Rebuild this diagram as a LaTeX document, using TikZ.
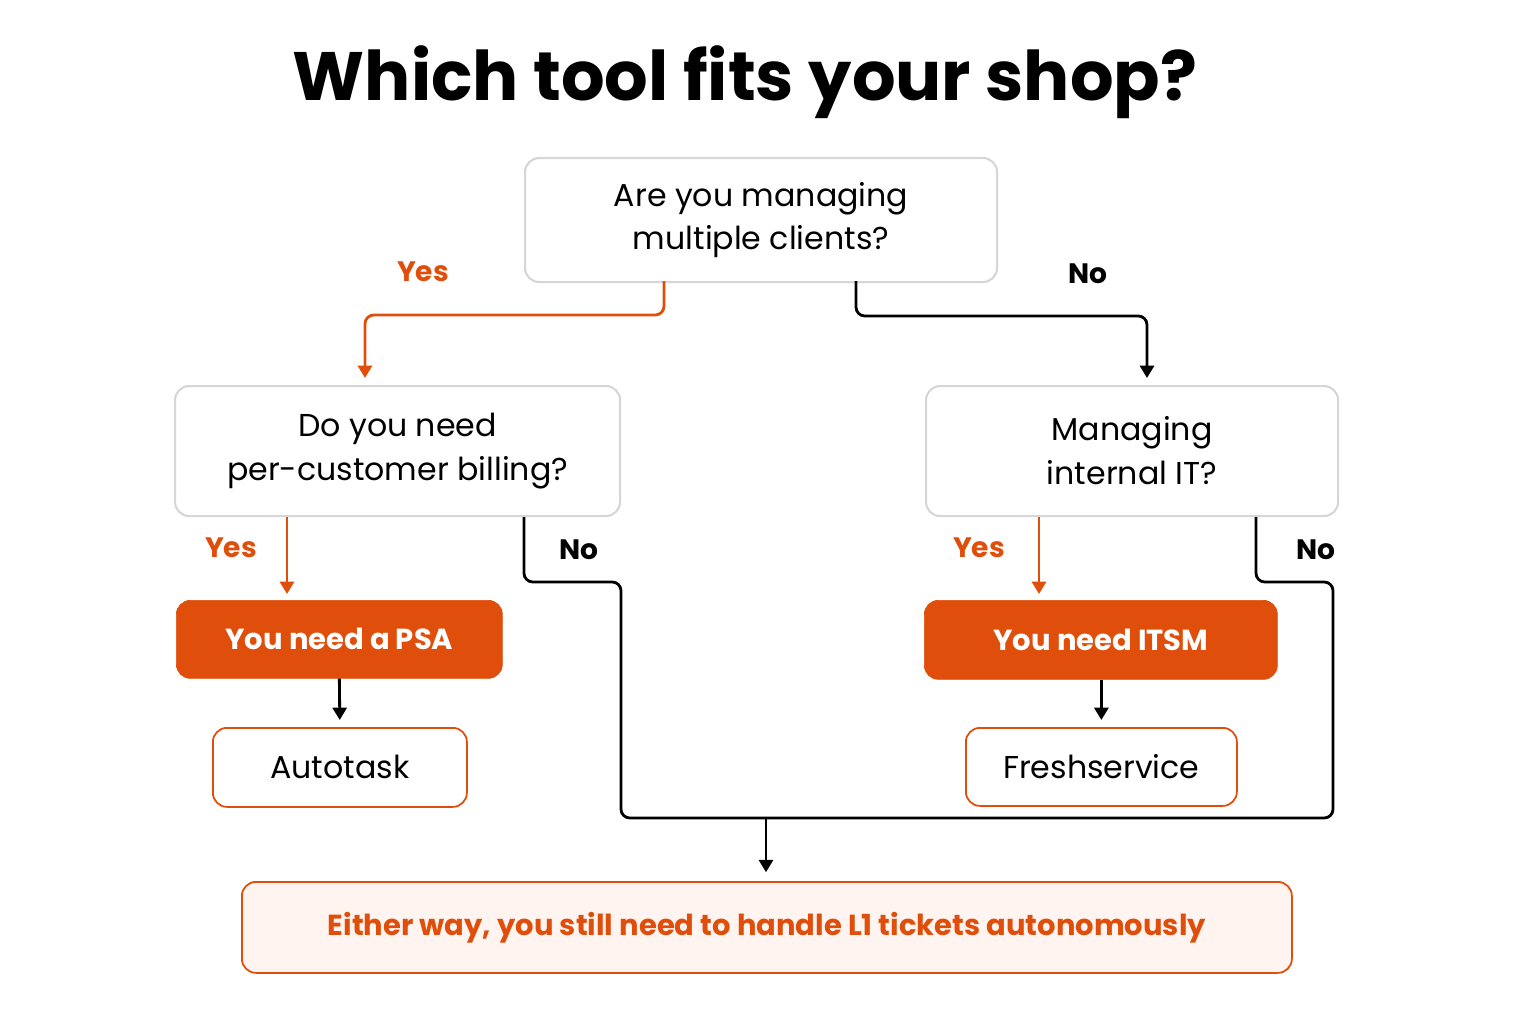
\documentclass[tikz,border=0pt]{standalone}
\usepackage{fontspec}
\setmainfont{Poppins}
\usetikzlibrary{arrows.meta,calc}
\definecolor{brand}{HTML}{E04E0B}
\definecolor{brandlight}{HTML}{FFF4EF}
\definecolor{boxgray}{HTML}{D6D6D6}
\tikzset{line cap=round,line join=round,
    question/.style={draw=boxgray,line width=1.2pt,rounded corners=8pt,align=center,anchor=north west,font=\fontsize{18}{25}\selectfont},
    answer/.style={fill=brand,draw=brand,rounded corners=8pt,text=white,font=\bfseries\fontsize{16.5}{22}\selectfont,anchor=north west},
    tool/.style={draw=brand,line width=1pt,fill=white,rounded corners=8pt,font=\fontsize{18}{22}\selectfont,anchor=north west},
    yeslbl/.style={text=brand,font=\bfseries\fontsize{16}{20}\selectfont},
    nolbl/.style={font=\bfseries\fontsize{16}{20}\selectfont},
    yespath/.style={draw=brand,line width=1.6pt,rounded corners=5pt,-{Triangle[width=8pt,length=7pt]}},
    nopath/.style={draw=black,line width=1.6pt,rounded corners=5pt,-{Triangle[width=8pt,length=7pt]}}}

\begin{document}
\begin{tikzpicture}[x=0.02cm,y=-0.02cm]
    \useasboundingbox (0,0) rectangle (1536,1024);
    \node[name=title,font=\bfseries\fontsize{39}{46}\selectfont] at (745,82) {Which tool fits your shop?};
    % questions
    \node[name=q1,question,minimum width=472*0.02cm,minimum height=124*0.02cm] at (524,157) {Are you managing\\multiple clients?};
    \node[name=q2,question,minimum width=445*0.02cm,minimum height=130*0.02cm] at (174,385) {Do you need\\per-customer billing?};
    \node[name=q3,question,minimum width=412*0.02cm,minimum height=130*0.02cm] at (925,385) {Managing\\internal IT?};
    % answers and tools
    \node[name=psa,answer,minimum width=326*0.02cm,minimum height=78*0.02cm] at (176,600) {You need a PSA};
    \node[name=itsm,answer,minimum width=353*0.02cm,minimum height=79*0.02cm] at (924,600) {You need ITSM};
    \node[name=autotask,tool,minimum width=254*0.02cm,minimum height=79*0.02cm] at (212,727) {Autotask};
    \node[name=fresh,tool,minimum width=271*0.02cm,minimum height=78*0.02cm] at (965,727) {Freshservice};
    \node[name=final,draw=brand,fill=brandlight,line width=1pt,rounded corners=8pt,anchor=north west,
        minimum width=1050*0.02cm,minimum height=91*0.02cm,text=brand,font=\bfseries\fontsize{16.5}{22}\selectfont]
        at (241,881) {Either way, you still need to handle L1 tickets autonomously};
    % labels
    \node[name=yes1,yeslbl] at (423,272) {Yes};
    \node[name=no1,nolbl] at (1088,274) {No};
    \node[name=yes2,yeslbl] at (231,548) {Yes};
    \node[name=no2,nolbl] at (579,550) {No};
    \node[name=yes3,yeslbl] at (979,548) {Yes};
    \node[name=no3,nolbl] at (1316,550) {No};
    % connectors
    \coordinate (q1y) at (664,281);
    \coordinate (q1n) at (856,281);
    \coordinate (q2in) at (365,378);
    \coordinate (q3in) at (1147,378);
    \coordinate (q2y) at (287,517);
    \coordinate (q2n) at (524,517);
    \coordinate (q3y) at (1039,517);
    \coordinate (q3n) at (1256,517);
    \coordinate (merge) at (766,818);
    \path[yespath] (q1y) |- (500,315) -| (q2in);
    \path[nopath] (q1n) |- (1000,316) -| (q3in);
    \path[yespath] (q2y) -- (287,594);
    \path[yespath] (q3y) -- (1039,594);
    \draw[line width=1.6pt,rounded corners=5pt] (q2n) |- (621,582) |- (1333,818) |- (1256,582) -- (q3n);
    \path[nopath,shorten >=5pt] (merge) -- (final.north -| merge);
    \path[nopath,shorten >=4pt] (psa.south) -- (autotask.north);
    \path[nopath,shorten >=4pt] (itsm.south -| fresh.north) -- (fresh.north);
\end{tikzpicture}
\end{document}
